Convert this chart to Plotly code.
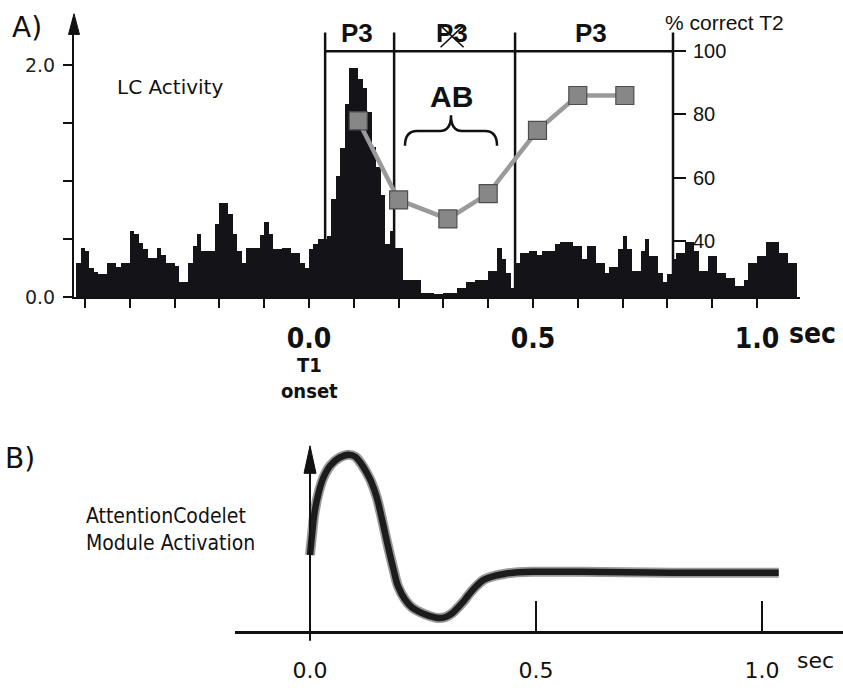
import plotly.graph_objects as go

W, H = 843, 691

# ---------------- data ----------------
# LC firing histogram: 10 ms bins, first bin starts at -0.52 s
lc_bin_start = -0.52
lc_bin_width = 0.01
lc_activity = [
    0.30, 0.43, 0.40, 0.25, 0.22, 0.20, 0.20, 0.30, 0.30, 0.26,
    0.30, 0.30, 0.57, 0.55, 0.47, 0.42, 0.34, 0.34, 0.43, 0.37,
    0.30, 0.30, 0.27, 0.13, 0.13, 0.30, 0.44, 0.55, 0.40, 0.40,
    0.40, 0.63, 0.81, 0.81, 0.72, 0.55, 0.40, 0.30, 0.43, 0.43,
    0.43, 0.54, 0.65, 0.55, 0.42, 0.42, 0.43, 0.43, 0.38, 0.38,
    0.30, 0.25,
    0.42, 0.46, 0.50, 0.50, 0.53, 0.85, 1.05, 1.29, 1.67, 1.98,
    1.98, 1.88, 1.80, 1.60, 1.30, 1.12, 0.88, 0.46, 0.57, 0.43,
    0.43,
    0.15, 0.15, 0.15, 0.15, 0.04, 0.04, 0.04, 0.03, 0.03, 0.04,
    0.04, 0.04, 0.08, 0.08, 0.13, 0.13, 0.15, 0.15, 0.15, 0.23,
    0.23, 0.43, 0.33, 0.21, 0.08, 0.30, 0.38, 0.38, 0.40, 0.40,
    0.37, 0.40, 0.40, 0.40, 0.46, 0.48, 0.48, 0.48, 0.44, 0.44,
    0.33, 0.44, 0.44, 0.30, 0.30, 0.21, 0.26, 0.26, 0.42, 0.53,
    0.42, 0.23, 0.23, 0.40, 0.50, 0.36, 0.36, 0.21, 0.13, 0.20,
    0.33, 0.38, 0.38, 0.48, 0.48, 0.40, 0.23, 0.23, 0.36, 0.36,
    0.21, 0.21, 0.17, 0.17, 0.10, 0.10, 0.15, 0.30, 0.30, 0.36,
    0.36, 0.48, 0.48, 0.48, 0.38, 0.38, 0.30, 0.30,
]

# % correct T2 as a function of T1-T2 lag (sec)
t2_lag = [0.11, 0.20, 0.31, 0.40, 0.51, 0.60, 0.705]
t2_correct = [78, 53, 47, 55, 75, 86, 86]

# P3 window boundaries (sec) and their labels
p3_bounds = [0.036, 0.19, 0.46, 0.8125]
p3_labels = ["P3", "P3", "P3"]

# AttentionCodelet module activation (arbitrary units)
act_t = [0.0, 0.005, 0.01, 0.02, 0.03, 0.045, 0.065, 0.086, 0.10, 0.113,
         0.125, 0.136, 0.148, 0.16, 0.172, 0.185, 0.195, 0.21, 0.225, 0.243,
         0.265, 0.284, 0.30, 0.315, 0.326, 0.34, 0.35, 0.365, 0.385, 0.41,
         0.432, 0.46, 0.50, 0.60, 0.70, 0.80, 0.90, 1.00, 1.037]
act_v = [0.77, 1.00, 1.20, 1.42, 1.56, 1.68, 1.76, 1.79, 1.77, 1.70,
         1.61, 1.51, 1.35, 1.12, 0.87, 0.62, 0.45, 0.32, 0.24, 0.19,
         0.15, 0.13, 0.14, 0.18, 0.23, 0.30, 0.36, 0.44, 0.52, 0.56,
         0.58, 0.595, 0.60, 0.60, 0.595, 0.59, 0.59, 0.59, 0.59]

# ---------------- layout helpers ----------------
def fx(p):
    return p / W

def fy(p):
    return 1 - p / H

# panel A geometry (pixels)
A_X0_PX, A_SEC_PX = 309, 448          # t = 0 position, pixels per second
A_LEFT_PX, A_RIGHT_PX = 74, 800
A_BASE_PX, A_TOP_PX = 302, 20
A_UNIT_PX = 118                        # pixels per activity unit
R_100_PX, R_UNIT_PX = 52, 3.217        # right axis: 100 % position, px per %

a_xrange = [(A_LEFT_PX - A_X0_PX) / A_SEC_PX, (A_RIGHT_PX - A_X0_PX) / A_SEC_PX]
a_yrange = [0, (A_BASE_PX - A_TOP_PX) / A_UNIT_PX]
r_range = [100 - (A_BASE_PX - R_100_PX) / R_UNIT_PX, 100 + (R_100_PX - A_TOP_PX) / R_UNIT_PX]

def a_y(p):  # pixel row -> left-axis value
    return (A_BASE_PX - p) / A_UNIT_PX

def a_t2px(t):
    return A_X0_PX + A_SEC_PX * t

# panel B geometry (pixels)
B_X0_PX, B_SEC_PX = 310, 452
B_LEFT_PX = 235
B_BASE_PX, B_TOP_PX = 641, 455
b_xrange = [(B_LEFT_PX - B_X0_PX) / B_SEC_PX, (W - B_X0_PX) / B_SEC_PX]
b_yrange = [0, (B_BASE_PX - B_TOP_PX) / 100]

BLACK = "#111111"
COND = "DejaVu Sans Condensed, Liberation Sans Narrow, Arial Narrow, sans-serif"
VERDANA = "DejaVu Sans, Verdana, sans-serif"
ARIAL = "Liberation Sans, Arial, sans-serif"

fig = go.Figure()

# ---------------- panel A ----------------
centers = [lc_bin_start + lc_bin_width * (i + 0.5) for i in range(len(lc_activity))]
fig.add_trace(go.Bar(x=centers, y=lc_activity, width=lc_bin_width,
                     marker=dict(color="#141418", line=dict(width=0)),
                     xaxis="x", yaxis="y", hoverinfo="skip"))

fig.add_trace(go.Scatter(x=t2_lag, y=t2_correct, mode="lines+markers",
                         line=dict(color="#9a9a9a", width=4.5),
                         marker=dict(symbol="square", size=18, color="#878787",
                                     line=dict(color="#4d4d4d", width=1.2)),
                         xaxis="x", yaxis="y2", hoverinfo="skip"))

# ---------------- panel B ----------------
fig.add_trace(go.Scatter(x=act_t, y=act_v, mode="lines",
                         line=dict(color="rgba(30,30,30,0.45)", width=10, shape="spline", smoothing=1.0),
                         xaxis="x2", yaxis="y5", hoverinfo="skip"))
fig.add_trace(go.Scatter(x=act_t, y=act_v, mode="lines",
                         line=dict(color="#1c1c1c", width=6.5, shape="spline", smoothing=1.0),
                         xaxis="x2", yaxis="y5", hoverinfo="skip"))

# ---------------- axes ----------------
a_ticks = [round(-0.5 + 0.1 * i, 1) for i in range(16)]
a_ticktext = ["0.0" if abs(v) < 1e-9 else "0.5" if abs(v - 0.5) < 1e-9 else "1.0" if abs(v - 1.0) < 1e-9 else ""
              for v in a_ticks]

right_pos = fx(a_t2px(p3_bounds[-1]))

fig.update_layout(
    width=W, height=H, margin=dict(l=0, r=0, t=0, b=0),
    paper_bgcolor="white", plot_bgcolor="rgba(0,0,0,0)",
    showlegend=False, bargap=0,
    xaxis=dict(domain=[fx(A_LEFT_PX), fx(A_RIGHT_PX)], range=a_xrange, anchor="y",
               tickvals=a_ticks, ticktext=a_ticktext, ticks="outside", ticklen=9, tickwidth=2,
               tickcolor=BLACK, showline=True, linewidth=2, linecolor=BLACK,
               showgrid=False, zeroline=False, ticklabelstandoff=6,
               tickfont=dict(size=28, family=COND, color=BLACK, weight="bold")),
    yaxis=dict(domain=[fy(A_BASE_PX), fy(A_TOP_PX)], range=a_yrange, anchor="x",
               tickvals=[0, 0.5, 1.0, 1.5, 2.0], ticktext=["0.0", "", "", "", "2.0"],
               ticks="outside", ticklen=9, tickwidth=2, tickcolor=BLACK,
               showline=True, linewidth=2, linecolor=BLACK, showgrid=False, zeroline=False,
               ticklabelstandoff=4, tickfont=dict(family=VERDANA, size=19, color="#222222")),
    yaxis3=dict(overlaying="y", anchor="x", side="left", range=a_yrange,
                tickvals=[0.5, 1.0, 1.5, 2.0], ticks="inside", ticklen=8, tickwidth=2,
                tickcolor=BLACK, showticklabels=False, showline=False, showgrid=False, zeroline=False),
    yaxis2=dict(overlaying="y", anchor="free", position=right_pos, side="right", range=r_range,
                tickvals=[40, 60, 80, 100], ticks="outside", ticklen=12, tickwidth=2, tickcolor=BLACK,
                showline=False, showgrid=False, zeroline=False, ticklabelstandoff=3,
                tickfont=dict(family=ARIAL, size=20, color=BLACK)),
    yaxis4=dict(overlaying="y", anchor="free", position=right_pos, side="right", range=r_range,
                tickvals=[40, 60, 80, 100], ticks="inside", ticklen=11, tickwidth=2, tickcolor=BLACK,
                showticklabels=False, showline=False, showgrid=False, zeroline=False),
    xaxis2=dict(domain=[fx(B_LEFT_PX), 1.0], range=b_xrange, anchor="y5",
                tickvals=[0, 0.5, 1.0], ticktext=["0.0", "0.5", "1.0"], ticks="inside", ticklen=30,
                tickwidth=2, tickcolor=BLACK, showline=True, linewidth=3, linecolor=BLACK,
                showgrid=False, zeroline=False, ticklabelstandoff=18,
                tickfont=dict(family=VERDANA, size=22, color=BLACK)),
    yaxis5=dict(domain=[fy(B_BASE_PX), fy(B_TOP_PX)], range=b_yrange, anchor="free",
                position=fx(B_X0_PX), showline=True, linewidth=2, linecolor=BLACK,
                showticklabels=False, ticks="", showgrid=False, zeroline=False),
)

# ---------------- shapes ----------------
shapes = []
top_y = a_y(33)
bar_y = a_y(52)
for b in p3_bounds:
    shapes.append(dict(type="line", xref="x", yref="y", x0=b, x1=b, y0=0, y1=top_y,
                       line=dict(color=BLACK, width=2.5), layer="below"))
shapes.append(dict(type="line", xref="x", yref="y", x0=p3_bounds[0], x1=p3_bounds[-1],
                   y0=bar_y, y1=bar_y, line=dict(color=BLACK, width=2.5), layer="below"))

def tri(tip_x, tip_y, half_w, h):
    return (f"M {fx(tip_x)} {fy(tip_y)} L {fx(tip_x - half_w)} {fy(tip_y + h)} "
            f"L {fx(tip_x + half_w)} {fy(tip_y + h)} Z")

def seg(x0, y0, x1, y1, width=2):
    return dict(type="line", xref="paper", yref="paper", x0=fx(x0), y0=fy(y0), x1=fx(x1), y1=fy(y1),
                line=dict(color=BLACK, width=width))

shapes.append(dict(type="path", xref="paper", yref="paper", path=tri(74, 14, 5.5, 21),
                   fillcolor=BLACK, line=dict(color=BLACK, width=1)))
shapes.append(dict(type="path", xref="paper", yref="paper", path=tri(B_X0_PX, 453, 6, 28),
                   fillcolor=BLACK, line=dict(color=BLACK, width=1)))
# short downward stub of the vertical axis below the B baseline
shapes.append(seg(B_X0_PX, B_BASE_PX, B_X0_PX, B_BASE_PX + 10))

# strike-through cross over the middle P3
cx = a_t2px((p3_bounds[1] + p3_bounds[2]) / 2) - 2
shapes.append(seg(cx - 12, 26, cx + 11, 48, 1.6))
shapes.append(seg(cx + 11, 26, cx - 12, 48, 1.6))

# curly brace under "AB"
brace_px = [("M", 405, 148), ("Q", 405, 133, 417, 133), ("L", 440, 133), ("Q", 451, 133, 451, 117),
            ("Q", 451, 133, 462, 133), ("L", 485, 133), ("Q", 497, 133, 497, 148)]
parts = []
for s in brace_px:
    cmd, coords = s[0], s[1:]
    pts = " ".join(f"{fx(coords[i])} {fy(coords[i + 1])}" for i in range(0, len(coords), 2))
    parts.append(f"{cmd} {pts}")
shapes.append(dict(type="path", xref="paper", yref="paper", path=" ".join(parts),
                   line=dict(color=BLACK, width=2.5)))
fig.update_layout(shapes=shapes)

# ---------------- text ----------------
def note(text, x, y, size, family, xanchor="center", **kw):
    font = dict(family=family, size=size, color=kw.pop("color", BLACK))
    if "weight" in kw:
        font["weight"] = kw.pop("weight")
    fig.add_annotation(text=text, x=fx(x), y=fy(y), xref="paper", yref="paper",
                       showarrow=False, xanchor=xanchor, yanchor="middle", font=font, **kw)

note("A)", 27, 28, 28, VERDANA)
note("LC Activity", 170, 88, 20, VERDANA)
mid = [(p3_bounds[i] + p3_bounds[i + 1]) / 2 for i in range(3)]
for m, lab in zip(mid, p3_labels):
    note(lab, a_t2px(m) - 3, 34, 26, ARIAL, weight="bold")
note("AB", 451, 98, 30, ARIAL, weight="bold")
note("% correct T2", 724, 23, 21, ARIAL)
note("sec", 812, 339, 28, COND, weight="bold")
note("T1<br>onset", 309, 384, 20, COND, weight="bold")

note("B)", 20, 466, 28, VERDANA)
note("AttentionCodelet<br>Module Activation", 84, 538, 21, COND, xanchor="left", align="left")
note("sec", 815, 671, 22, VERDANA)

fig.write_html("out.html")
